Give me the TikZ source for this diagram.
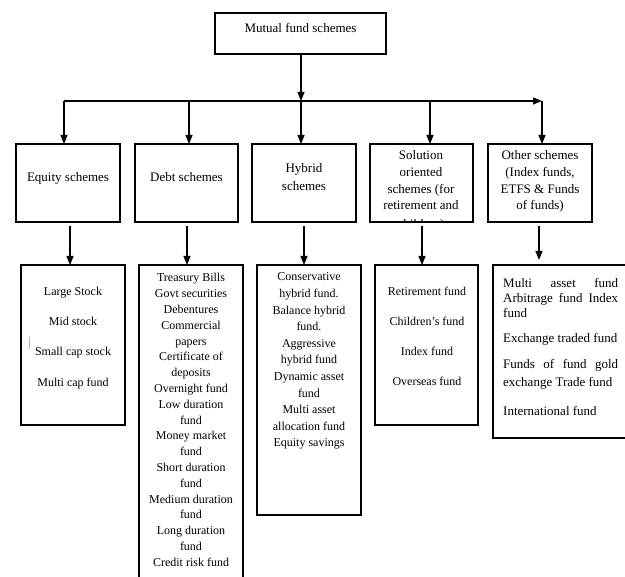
\documentclass[tikz,border=0pt]{standalone}
\usepackage{fontspec}
\setmainfont{Liberation Serif}
\usetikzlibrary{arrows.meta}
\begin{document}
\begin{tikzpicture}[x=1pt,y=-1pt,
  box/.style={draw,line width=1.3pt,anchor=north west,inner sep=0pt,outer sep=0pt},
  hd/.style={inner sep=0pt,anchor=base,font=\fontsize{13}{15}\selectfont},
  it/.style={inner sep=0pt,anchor=base,font=\fontsize{12}{14}\selectfont},
  ot/.style={inner sep=0pt,anchor=base west,font=\fontsize{13}{15}\selectfont},
  arr/.style={line width=1.2pt,-{Triangle[length=9pt,width=7pt]}}]
\useasboundingbox (0,0) rectangle (625,577);
% level 1
\node[box,minimum width=171pt,minimum height=41pt] (top) at (215,13) {};
\node[hd] (topt) at (300.5,32.5) {Mutual fund schemes};
% level 2 boxes
\node[box,minimum width=104pt,minimum height=78pt] (eq) at (16,144) {};
\node[box,minimum width=103pt,minimum height=78pt] (de) at (135,144) {};
\node[box,minimum width=104pt,minimum height=78pt] (hy) at (252,144) {};
\node[box,minimum width=103pt,minimum height=78pt] (so) at (370,144) {};
\node[box,minimum width=104pt,minimum height=78pt] (ot) at (488,144) {};
\node[hd] (eqt) at (68,181.5) {Equity schemes};
\node[hd] (det) at (186.5,181.5) {Debt schemes};
\node[hd] (hyt1) at (304,172.5) {Hybrid};
\node[hd] (hyt2) at (304,190.5) {schemes};
\foreach \t/\y [count=\i] in {{Solution}/159.5, {oriented}/176.5, {schemes (for}/193.5, {retirement and}/209.5}
  \node[hd] (sot\i) at (421,\y) {\t};
\begin{scope}
  \clip (371,145) rectangle (472,221.3);
  \node[hd] (sot5) at (421,229) {children)};
\end{scope}
\foreach \t/\y [count=\i] in {{Other schemes}/159.5, {(Index funds,}/176.5, {ETFS \& Funds}/193.5, {of funds)}/209.5}
  \node[hd] (ott\i) at (540,\y) {\t};
% level 3 boxes
\node[box,minimum width=104pt,minimum height=160pt] (eql) at (21,265) {};
\node[box,minimum width=104pt,minimum height=330pt] (del) at (139,265) {};
\node[box,minimum width=104pt,minimum height=250pt] (hyl) at (257,265) {};
\node[box,minimum width=103pt,minimum height=160pt] (sol) at (375,265) {};
\node[box,minimum width=140pt,minimum height=173pt] (otl) at (493,265) {};
% equity list
\foreach \t/\y [count=\i] in {{Large Stock}/296, {Mid stock}/326, {Small cap stock}/356, {Multi cap fund}/387}
  \node[it] (eqi\i) at (73,\y) {\t};
\draw[gray!60,line width=1pt] (29,337) -- (29,349);
% debt list
\foreach \t [count=\i] in {Treasury Bills, Govt securities, Debentures, Commercial, papers, Certificate of, deposits, Overnight fund, Low duration, fund, Money market, fund, Short duration, fund, Medium duration, fund, Long duration, fund, Credit risk fund}
  \node[it] (dei\i) at (191,{282+15.8*(\i-1)}) {\t};
% hybrid list
\foreach \t [count=\i] in {Conservative, hybrid fund., Balance hybrid, fund., Aggressive, hybrid fund, Dynamic asset, fund, Multi asset, allocation fund, Equity savings}
  \node[it] (hyi\i) at (309,{281+16.6*(\i-1)}) {\t};
% solution list
\foreach \t/\y [count=\i] in {{Retirement fund}/296, {Children’s fund}/326, {Index fund}/356, {Overseas fund}/386}
  \node[it] (soi\i) at (427,\y) {\t};
% other list
\node[ot] (oti1) at (503,287.5) {\makebox[115pt][s]{Multi asset fund}};
\node[ot] (oti2) at (503,302.3) {\makebox[115pt][s]{Arbitrage fund Index}};
\node[ot] (oti3) at (503,317.3) {fund};
\node[ot] (oti4) at (503,342.3) {Exchange traded fund};
\node[ot] (oti5) at (503,369) {\makebox[115pt][s]{Funds of fund gold}};
\node[ot] (oti6) at (503,386.5) {exchange Trade fund};
\node[ot] (oti7) at (503,415.7) {International fund};
% connectors
\coordinate (d1) at (64,101);
\coordinate (d2) at (189,101);
\coordinate (d3) at (301,101);
\coordinate (d4) at (430,101);
\coordinate (d5) at (542,101);
\draw[arr] (top.south -| d3) -- (d3);
\draw[arr] (d1) -- (d5);
\draw[arr] (d1) -- (eq.north -| d1);
\draw[arr] (d2) -- (de.north -| d2);
\draw[arr] (d3) -- (hy.north -| d3);
\draw[arr] (d4) -- (so.north -| d4);
\draw[arr] (d5) -- (ot.north -| d5);
\coordinate (a1) at (70,0);
\coordinate (a2) at (187,0);
\coordinate (a3) at (304,0);
\coordinate (a4) at (422,0);
\coordinate (a5) at (539,0);
\draw[arr,shorten <=4pt] (eq.south -| a1) -- (eql.north -| a1);
\draw[arr,shorten <=4pt] (de.south -| a2) -- (del.north -| a2);
\draw[arr,shorten <=4pt] (hy.south -| a3) -- (hyl.north -| a3);
\draw[arr,shorten <=4pt] (so.south -| a4) -- (sol.north -| a4);
\draw[arr,shorten <=4pt,shorten >=5pt] (ot.south -| a5) -- (otl.north -| a5);
\end{tikzpicture}
\end{document}
